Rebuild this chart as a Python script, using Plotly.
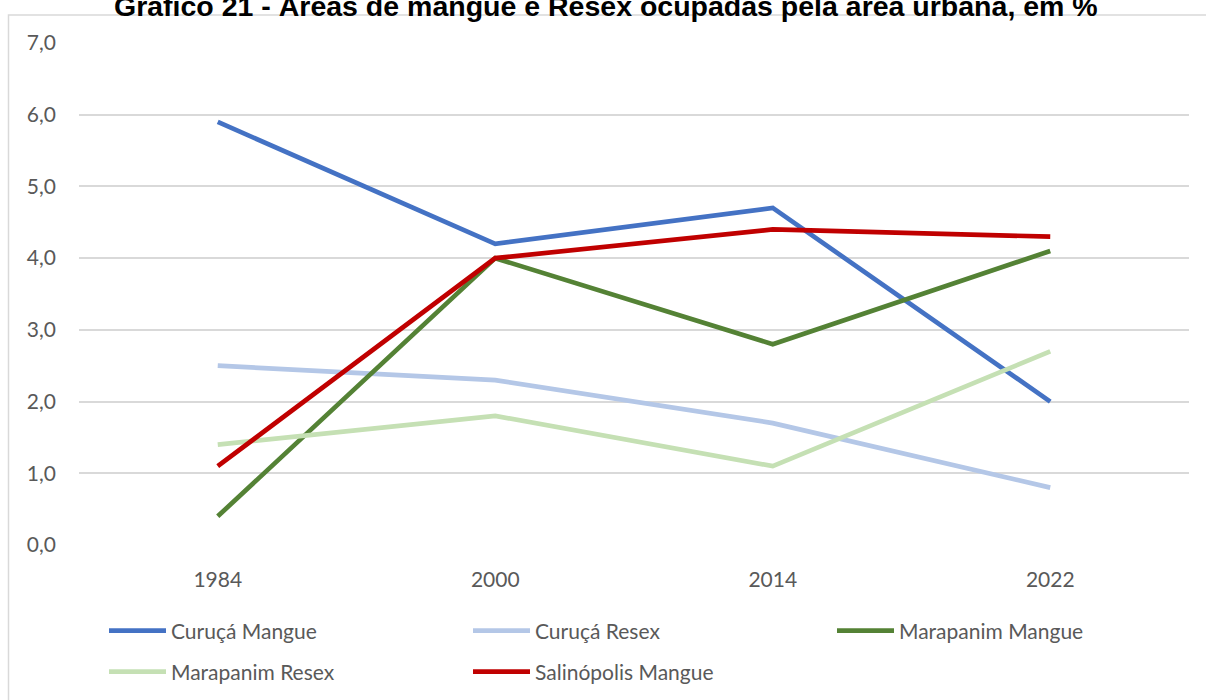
import plotly.graph_objects as go

# Years on the category axis
years = ["1984", "2000", "2014", "2022"]

# Share of each area occupied by the urban footprint (%)
curuca_mangue = [5.9, 4.2, 4.7, 2.0]
curuca_resex = [2.5, 2.3, 1.7, 0.8]
marapanim_mangue = [0.4, 4.0, 2.8, 4.1]
marapanim_resex = [1.4, 1.8, 1.1, 2.7]
salinopolis_mangue = [1.1, 4.0, 4.4, 4.3]

series_names = ["Curuçá Mangue", "Curuçá Resex", "Marapanim Mangue",
                "Marapanim Resex", "Salinópolis Mangue"]
series_values = [curuca_mangue, curuca_resex, marapanim_mangue,
                 marapanim_resex, salinopolis_mangue]
series_colors = ["#4472C4", "#B4C7E7", "#548235", "#C5E0B4", "#C00000"]
# legend blocks: row one is split into two blocks so the three entries stay on one line
series_legend = ["legend", "legend", "legend3", "legend2", "legend2"]

title_text = "Gráfico 21 - Áreas de mangue e Resex ocupadas pela área urbana, em %"

W, H = 1206, 700
ML, MR, MT, MB = 79, 17, 43, 155
plot_w = W - ML - MR
plot_h = H - MT - MB


def px_x(px):
    return (px - ML) / plot_w


def px_y(py):
    return (H - MB - py) / plot_h


fig = go.Figure()
for name, vals, color, leg in zip(series_names, series_values, series_colors, series_legend):
    fig.add_trace(go.Scatter(
        x=years, y=vals, name=name, mode="lines",
        line=dict(color=color, width=4.7),
        legend=leg,
    ))

tick_font = dict(family="Lato, Carlito, sans-serif", size=21, color="#595959")

legend_common = dict(
    orientation="h",
    xref="container",
    yref="container",
    xanchor="left",
    yanchor="middle",
    entrywidthmode="pixels",
    itemwidth=57,
    font=tick_font,
    bgcolor="rgba(0,0,0,0)",
    traceorder="normal",
)

col_step = 364
leg_x0 = 104

fig.update_layout(
    width=W, height=H,
    margin=dict(l=ML, r=MR, t=MT, b=MB, pad=0, autoexpand=False),
    paper_bgcolor="white",
    plot_bgcolor="white",
    separators=",.",
    showlegend=True,
    legend=dict(x=leg_x0 / W, y=1 - 631 / H, entrywidth=col_step - 72, **legend_common),
    legend3=dict(x=(leg_x0 + 2 * col_step) / W, y=1 - 631 / H, entrywidth=0, **legend_common),
    legend2=dict(x=leg_x0 / W, y=1 - 672 / H, entrywidth=col_step - 72, **legend_common),
    xaxis=dict(
        type="category",
        range=[-0.5, 3.5],
        showgrid=False,
        showline=False,
        zeroline=False,
        ticks="",
        tickfont=tick_font,
        ticklabelstandoff=20,
    ),
    yaxis=dict(
        range=[0, 7],
        dtick=1,
        tickformat=".1f",
        showgrid=True,
        gridcolor="#D9D9D9",
        gridwidth=1.5,
        zeroline=False,
        showline=False,
        ticks="",
        tickfont=tick_font,
        ticklabelstandoff=22,
    ),
    annotations=[dict(
        text="<b>" + title_text + "</b>",
        xref="paper", yref="paper",
        x=px_x(606), y=px_y(24),
        xanchor="center", yanchor="bottom",
        showarrow=False,
        font=dict(family="Liberation Sans, Arial, sans-serif", size=28.5, color="#000000"),
    )],
    shapes=[
        # chart frame; its right and bottom edges sit outside the page
        dict(type="rect", xref="paper", yref="paper", layer="below",
             x0=px_x(8.5), x1=px_x(W + 20), y0=px_y(15), y1=px_y(H + 20),
             fillcolor="rgba(0,0,0,0)",
             line=dict(color="#D9D9D9", width=1.5)),
    ],
)

fig.write_html("out.html", config={"displayModeBar": False})
